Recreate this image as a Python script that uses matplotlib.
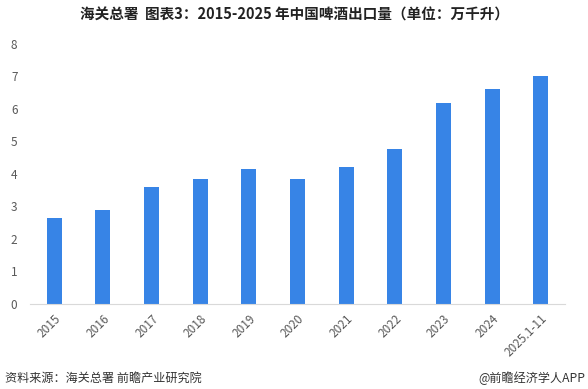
import matplotlib
matplotlib.use("Agg")
import matplotlib.pyplot as plt

plt.rcParams['font.family'] = ['Noto Sans CJK SC', 'DejaVu Sans']

years = ['2015', '2016', '2017', '2018', '2019', '2020', '2021', '2022', '2023', '2024', '2025.1-11']
export = [2.65, 2.89, 3.6, 3.85, 4.15, 3.85, 4.2, 4.77, 6.18, 6.6, 7.0]

fig = plt.figure(figsize=(5.88, 3.89), dpi=100)
ax = fig.add_axes([0.051, 0.2185, 0.910, 0.6685])

x = range(len(years))
ax.bar(x, export, width=0.31, color='#3784e6')

ax.set_xlim(-0.5, len(years) - 0.5)
ax.set_ylim(0, 8)
ax.set_yticks(range(0, 9))
ax.set_xticks(list(x))
ax.set_xticklabels(years, rotation=45, ha='right', rotation_mode='anchor')
ax.tick_params(axis='both', length=0, labelsize=8.5, labelcolor='#595959')
ax.tick_params(axis='y', pad=9)
ax.tick_params(axis='x', pad=6)

for s in ['top', 'right', 'left']:
    ax.spines[s].set_visible(False)
ax.spines['bottom'].set_color('#d9d9d9')

fig.text(0.5, 0.962, '海关总署  图表3：2015-2025 年中国啤酒出口量（单位：万千升）',
         ha='center', va='center', fontsize=10.5, fontweight='bold', color='#222222')
fig.text(0.008, 0.028, '资料来源：海关总署 前瞻产业研究院', ha='left', va='center',
         fontsize=8.7, color='#333333')
fig.text(0.995, 0.028, '@前瞻经济学人APP', ha='right', va='center',
         fontsize=8.7, color='#333333')

fig.savefig('out.png', dpi=100)
